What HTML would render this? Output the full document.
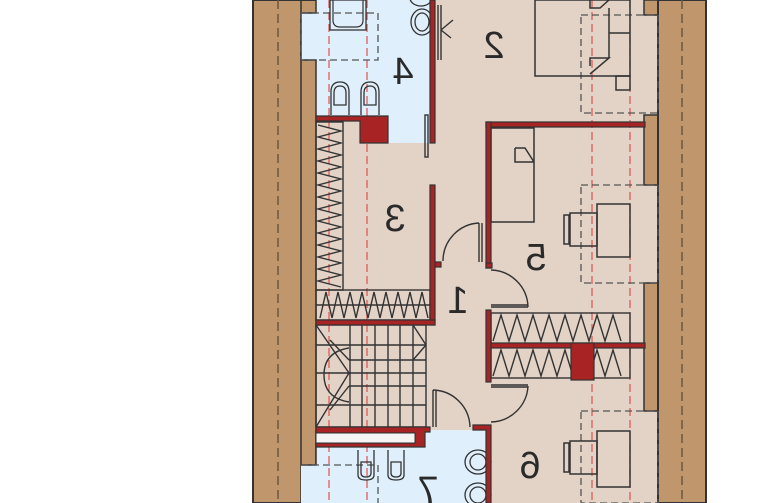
<!DOCTYPE html>
<html><head><meta charset="utf-8"><style>
html,body{margin:0;padding:0;background:#fff;}
svg{display:block}
.n{font-family:"Liberation Sans",sans-serif;font-size:38px;fill:#2a2a2a;}
</style></head><body>
<svg width="780" height="503" viewBox="0 0 780 503" xmlns="http://www.w3.org/2000/svg">
<rect width="780" height="503" fill="#fff"/>
<!-- outer brown -->
<rect x="253" y="0" width="453" height="503" fill="#c0966c" stroke="#333" stroke-width="2"/>
<!-- interior beige -->
<rect x="316" y="0" width="342" height="503" fill="#e3d3c6"/>
<!-- right brown bumps -->
<rect x="644" y="0" width="14" height="15" fill="#c0966c" stroke="#333" stroke-width="1.5"/>
<rect x="644" y="115" width="14" height="70" fill="#c0966c" stroke="#333" stroke-width="1.5"/>
<rect x="644" y="283" width="14" height="128" fill="#c0966c" stroke="#333" stroke-width="1.5"/>
<line x1="658" y1="0" x2="658" y2="503" stroke="#333" stroke-width="2"/>
<line x1="301" y1="0" x2="301" y2="503" stroke="#333" stroke-width="1.5"/>
<line x1="316" y1="115" x2="316" y2="465" stroke="#333" stroke-width="1.5"/>
<!-- dashed brown lines -->
<line x1="278" y1="0" x2="278" y2="503" stroke="#6b5640" stroke-width="1.5" stroke-dasharray="9,5"/>
<line x1="682" y1="0" x2="682" y2="503" stroke="#6b5640" stroke-width="1.5" stroke-dasharray="9,5"/>
<!-- bath 4 -->
<path d="M301 13 H316 V0 H430 V143 H388 V116 H316 V60 H301 Z" fill="#dff0fc"/>
<path d="M316 0 V13 H301 V60 H316 V116" fill="none" stroke="#333" stroke-width="1.5"/>
<!-- bath 7 -->
<path d="M316 430 H488 V503 H301 V465 H316 Z" fill="#dff0fc"/>
<path d="M316 430 V465 H301" fill="none" stroke="#333" stroke-width="1.5"/>
<!-- red dashed lines -->
<g stroke="#e05050" stroke-width="1.2" stroke-dasharray="8,4">
<line x1="329" y1="0" x2="329" y2="503"/><line x1="367" y1="0" x2="367" y2="503"/>
<line x1="592" y1="0" x2="592" y2="503"/><line x1="630" y1="0" x2="630" y2="503"/>
</g>
<!-- gray dashed furniture -->
<g fill="none" stroke="#555" stroke-width="1.3" stroke-dasharray="7,4">
<rect x="301" y="13" width="77" height="47"/>
<rect x="581" y="15" width="77" height="98"/>
<rect x="581" y="185" width="77" height="98"/>
<rect x="581" y="411" width="77" height="92"/>
<path d="M301 465 H378 V503"/>
</g>
<!-- bathtub 4 -->
<rect x="330" y="0" width="36" height="30" fill="none" stroke="#333" stroke-width="1.3"/>
<path d="M333 0 V20 Q333 27 340 27 H356 Q363 27 363 20 V0" fill="none" stroke="#333" stroke-width="1.2"/>
<!-- toilets/bidets 4 -->
<g fill="none" stroke="#333" stroke-width="1.3">
<path d="M331 115 V92 Q331 82 340 82 Q349 82 349 92 V115"/><path d="M334 105 V93 Q334 86 340 86 Q346 86 346 93 V105 Z"/>
<path d="M361 115 V92 Q361 82 370 82 Q379 82 379 92 V115"/><path d="M364 105 V93 Q364 86 370 86 Q376 86 376 93 V105 Z"/>
<ellipse cx="422" cy="22" rx="11" ry="13"/><ellipse cx="422" cy="22" rx="7" ry="9"/>
<ellipse cx="421" cy="-2" rx="11" ry="8"/>
</g>
<!-- 7 fixtures -->
<g fill="none" stroke="#333" stroke-width="1.3">
<path d="M358 450 V475 Q358 480 366 480 Q374 480 374 475 V450"/><path d="M361 462 V473 Q361 477 366 477 Q371 477 371 473 V462 Z"/>
<path d="M388 450 V475 Q388 480 396 480 Q404 480 404 475 V450"/><path d="M391 462 V473 Q391 477 396 477 Q401 477 401 473 V462 Z"/>
<ellipse cx="478" cy="462" rx="13" ry="12"/><ellipse cx="478" cy="462" rx="8" ry="8"/>
<ellipse cx="478" cy="495" rx="13" ry="12"/><ellipse cx="478" cy="495" rx="8" ry="8"/>
</g>
<!-- bedroom 2 furniture -->
<g fill="none" stroke="#333" stroke-width="1.5">
<rect x="535" y="0" width="95" height="76"/>
<path d="M590 0 V8 H600 L609 0"/><path d="M590 66 V58 H609 L590 74"/>
<path d="M609 8 V58 M609 33 H630"/>
<rect x="616" y="76" width="14" height="14"/>
<rect x="491" y="128" width="43" height="94"/>
<path d="M515 148 H525 L534 162 M515 148 V162 H534"/>
<rect x="597" y="204" width="33" height="53"/>
<rect x="570" y="213" width="27" height="33"/>
<rect x="564" y="215" width="5" height="29"/>
<rect x="597" y="431" width="33" height="56"/>
<rect x="570" y="441" width="27" height="33"/>
<rect x="564" y="443" width="5" height="29"/>
</g>
<!-- wardrobe 3 -->
<g fill="none" stroke="#333" stroke-width="1.4">
<rect x="316" y="122" width="27" height="168"/>
<path d="M318 125 l23 6 -23 6 23 6 -23 6 23 6 -23 6 23 6 -23 6 23 6 -23 6 23 6 -23 6 23 6 -23 6 23 6 -23 6 23 6 -23 6 23 6 -23 6 23 6 -23 6 23 6 -23 6 23 6 -23 6 23 6"/>
<rect x="316" y="290" width="114" height="30"/><line x1="316" y1="305" x2="430" y2="305"/>
<path d="M320 318 l6 -26 6 26 6 -26 6 26 6 -26 6 26 6 -26 6 26 6 -26 6 26 6 -26 6 26 6 -26 6 26 6 -26 6 26 6 -26 6 26"/>
<!-- right wardrobe -->
<rect x="491" y="313" width="139" height="65"/>
<path d="M493 341 l8 -26 8 26 8 -26 8 26 8 -26 8 26 8 -26 8 26 8 -26 8 26 8 -26 8 26 8 -26 8 26 8 -26 8 26"/>
<path d="M493 376 l8 -26 8 26 8 -26 8 26 8 -26 8 26 8 -26 8 26 8 -26 8 26 8 -26 8 26 8 -26 8 26 8 -26 8 26"/>
<!-- stairs -->
<rect x="316" y="325" width="110" height="102"/>
<line x1="349" y1="373" x2="426" y2="373"/><line x1="349" y1="373" x2="349" y2="373"/>
<path d="M350 325 V427 M362 325 V427 M375 325 V427 M388 325 V427 M400 325 V427 M413 325 V427"/>
<path d="M316 345 H426 M316 405 H426 M349 360 H426 M349 386 H426"/>
<path d="M349 348 Q324 352 324 375 Q324 398 349 402"/>
<path d="M316 325 L349 373 L316 427 M316 373 H349 M330 340 L349 360 M330 410 L349 386 M413 325 L426 345 M413 360 L426 345"/>
</g>
<!-- red walls -->
<g fill="#a82424" stroke="#333" stroke-width="1.2">
<rect x="430" y="0" width="5" height="143"/>
<path d="M316 116 H388 V143 H360 V121 H316 Z"/>
<rect x="430" y="185" width="5" height="140"/>
<rect x="435" y="262" width="6" height="5"/>
<rect x="316" y="320" width="119" height="5"/>
<rect x="486" y="122" width="159" height="5"/>
<rect x="486" y="122" width="5" height="146"/>
<rect x="486" y="263" width="6" height="5"/>
<rect x="486" y="310" width="5" height="72"/>
<rect x="491" y="343" width="154" height="5"/>
<rect x="571" y="343" width="23" height="37"/>
<path d="M316 427 H430 V432 H425 V447 H316 V443 H415 V433 H316 Z"/>
<path d="M473 425 H491 V503 H486 V430 H473 Z"/>
</g>
<rect x="316" y="433" width="99" height="10" fill="#f5f5f5" stroke="#333" stroke-width="1"/>
<!-- door leaves & arcs -->
<g fill="none" stroke="#333" stroke-width="1.4">
<path d="M443 261 A38 38 0 0 1 479 223 M479 223 V262 M482 223 V262"/>
<path d="M491 270 A38 38 0 0 1 528 307 M491 307 H528 M491 305 H528"/>
<path d="M491 385 H528 M491 387 H528 M528 386 A38 38 0 0 1 491 422"/>
<path d="M433 390 A38 38 0 0 1 470 427 M433 390 V427 M436 390 V427"/>
<rect x="425" y="115" width="3" height="42"/>
<path d="M438 5 V60 M441 5 V60 M441 30 L453 20 M441 30 L451 38"/>
</g>
<!-- numbers (mirrored) -->
<g class="n" text-anchor="middle">
<text transform="translate(494,58) scale(-1,1)">2</text>
<text transform="translate(403,84) scale(-1,1)">4</text>
<text transform="translate(395,231) scale(-1,1)">3</text>
<text transform="translate(536,270) scale(-1,1)">5</text>
<text transform="translate(458,313) scale(-1,1)">1</text>
<text transform="translate(530,478) scale(-1,1)">6</text>
<text transform="translate(428,503) scale(-1,1)">7</text>
</g>
</svg>
</body></html>
